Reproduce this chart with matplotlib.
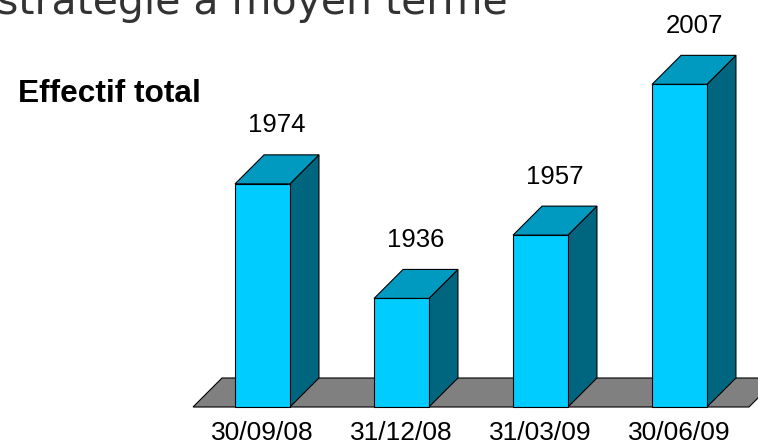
import matplotlib
matplotlib.use("Agg")
import matplotlib.pyplot as plt
from matplotlib.patches import Polygon

# ---- data ----
categories = ["30/09/08", "31/12/08", "31/03/09", "30/06/09"]
values = [1974, 1936, 1957, 2007]
base_value = 1900
top_value = 2030
title_text = "stratégie à moyen terme"
subtitle_text = "Effectif total"

# ---- style ----
W, H, DPI = 758, 444, 100
front_c = "#00CCFF"
top_c = "#0099BF"
side_c = "#006680"
floor_c = "#808080"
depth_px = (29, 29)
bar_width = 0.395
PT = 72.0 / DPI  # points per pixel

fig = plt.figure(figsize=(W / DPI, H / DPI), dpi=DPI)
fig.patch.set_facecolor("white")
ax = fig.add_axes([193 / W, 37 / H, 556 / W, 392 / H])
ax.set_xlim(-0.5, len(categories) - 0.5)
ax.set_ylim(base_value, top_value)
for s in ax.spines.values():
    s.set_visible(False)
ax.set_yticks([])
ax.tick_params(axis="x", length=0, pad=14 * PT)
ax.set_xticks(range(len(categories)))
ax.set_xticklabels(categories, fontsize=19, family="Liberation Sans", color="black")

# depth in data units
inv = ax.transData.inverted()
p0 = ax.transData.transform((0, base_value))
p1 = inv.transform((p0[0] + depth_px[0], p0[1] + depth_px[1]))
ddx, ddy = p1[0], p1[1] - base_value

# floor
xl, xr = ax.get_xlim()
floor = Polygon([(xl, base_value), (xr, base_value), (xr + ddx, base_value + ddy),
                 (xl + ddx, base_value + ddy)], closed=True, facecolor=floor_c,
                edgecolor="black", linewidth=0.8, clip_on=False, zorder=1)
ax.add_patch(floor)

# bars
for i, v in enumerate(values):
    x0 = i - bar_width / 2
    x1 = i + bar_width / 2
    side = Polygon([(x1, base_value), (x1 + ddx, base_value + ddy), (x1 + ddx, v + ddy), (x1, v)],
                   closed=True, facecolor=side_c, edgecolor="black", linewidth=0.8,
                   clip_on=False, zorder=2)
    top = Polygon([(x0, v), (x1, v), (x1 + ddx, v + ddy), (x0 + ddx, v + ddy)],
                  closed=True, facecolor=top_c, edgecolor="black", linewidth=0.8,
                  clip_on=False, zorder=2)
    ax.add_patch(side)
    ax.add_patch(top)
ax.bar(range(len(values)), [v - base_value for v in values], bottom=base_value,
       width=bar_width, color=front_c, edgecolor="black", linewidth=0.8, zorder=3,
       clip_on=False)

for i, v in enumerate(values):
    ax.annotate(str(v), xy=(i + ddx / 2, v + ddy), xytext=(0, 22.5 * PT),
                textcoords="offset points", ha="center", va="baseline",
                fontsize=18.5, family="Liberation Sans", color="black",
                annotation_clip=False)

fig.text(-3 / W, (H - 14) / H, title_text, fontsize=29.5, family="DejaVu Sans",
         color="#333333", ha="left", va="baseline")
fig.text(18 / W, (H - 102) / H, subtitle_text, fontsize=22.8, family="Liberation Sans",
         fontweight="bold", color="black", ha="left", va="baseline")

fig.savefig("out.png", dpi=DPI, facecolor="white")
